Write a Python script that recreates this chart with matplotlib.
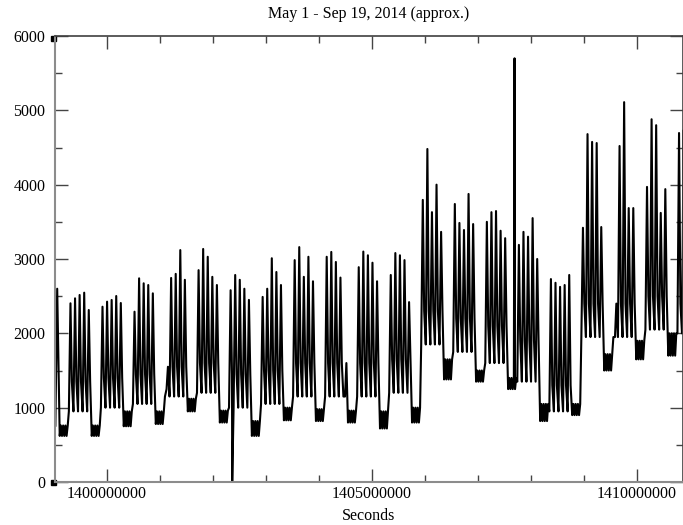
import numpy as np
import matplotlib
matplotlib.use("Agg")
import matplotlib.pyplot as plt
from matplotlib.ticker import MultipleLocator, FormatStrFormatter

# day 0 = Thu May 1 2014, 00:00 local (PDT)
t_start = 1398927600
day = 86400

# Thu May 1, Fri May 2 (before the first full week)
head_low = [800, 750]
head_high = [2400, 2600]

# weekday (Mon..Fri) peaks, one row per week starting Mon May 5
weekday_peak = [
    [2404, 2471, 2516, 2547, 2314],
    [2358, 2426, 2449, 2502, 2408],
    [2291, 2740, 2673, 2650, 2538],
    [1250, 2745, 2800, 3120, 2720],
    [2850, 3135, 3030, 2760, 2650],
    [2580, 2785, 2720, 2600, 2450],
    [2490, 2600, 3010, 2825, 2650],
    [2985, 3160, 2760, 3030, 2700],
    [3030, 3095, 2960, 2750, 1150],
    [2890, 3100, 3050, 2950, 2700],
    [2785, 3080, 3050, 2985, 2420],
    [3795, 4480, 3630, 4000, 3365],
    [3740, 3485, 3390, 3875, 3470],
    [3500, 3630, 3645, 3380, 3280],
    [3190, 3365, 3300, 3550, 3000],
    [2730, 2680, 2625, 2650, 2785],
    [3420, 4680, 4575, 4560, 3430],
    [1950, 4520, 5110, 3685, 3685],
    [3970, 4880, 4800, 3620, 3940],
    [4695, 4735],
]
# overnight level and evening level on weekdays, per week
weekday_low = [950, 1000, 1050, 1150, 1200, 1000, 1050, 1150, 1150, 1150,
               1200, 1850, 1750, 1600, 1350, 950, 1950, 1950, 2050, 2000]
weekday_eve = [1350, 1400, 1450, 1550, 1600, 1450, 1500, 1600, 1600, 1600,
               1650, 2300, 2200, 2100, 1900, 1300, 2400, 2400, 2500, 2400]
# weekend band (low / high), first entry = May 3-4, then after each week
weekend_low = [620, 620, 750, 780, 950, 800, 620, 830, 820, 800, 720, 800,
               1380, 1350, 1250, 820, 900, 1500, 1650, 1700]
weekend_high = [760, 760, 950, 950, 1120, 960, 820, 1000, 980, 960, 950, 1000,
                1650, 1500, 1400, 1050, 1050, 1720, 1900, 2000]

# single odd samples: (day, value)
event_day = [39.8, 101.5]
event_val = [0, 5700]

# build the series
pts = []
for d in range(2):
    pts.append((d + 0.15, head_low[d]))
    pts.append((d + 0.55, head_high[d]))

def add_weekend(first_day, lo, hi):
    for d in (first_day, first_day + 1):
        for f, v in zip((0.1, 0.35, 0.6, 0.85), (lo, hi, lo, hi)):
            pts.append((d + f, v))

add_weekend(2, weekend_low[0], weekend_high[0])
for k, peaks in enumerate(weekday_peak):
    mon = 4 + 7 * k
    for i, p in enumerate(peaks):
        pts.append((mon + i + 0.1, weekday_low[k]))
        pts.append((mon + i + 0.45, p))
        pts.append((mon + i + 0.75, weekday_eve[k]))
    if len(peaks) == 5:
        add_weekend(mon + 5, weekend_low[k + 1], weekend_high[k + 1])
    else:
        pts.append((mon + len(peaks) + 0.1, weekday_low[k]))

for d, v in zip(event_day, event_val):
    pts.append((d, v))
pts.sort()
t = np.array([t_start + p[0] * day for p in pts])
v = np.array([p[1] for p in pts])

plt.rcParams['font.family'] = ['Liberation Serif', 'DejaVu Serif']
fig = plt.figure(figsize=(6.83, 5.25), dpi=100)
ax = fig.add_axes([55 / 683, 43 / 525, 628 / 683, 446 / 525])

ax.plot(t, v, color='black', lw=1.5)

ax.set_xlim(1399020000, 1410878000)
ax.set_ylim(0, 6000)
ax.xaxis.set_major_locator(MultipleLocator(5000000))
ax.xaxis.set_minor_locator(MultipleLocator(1000000))
ax.yaxis.set_major_locator(MultipleLocator(1000))
ax.yaxis.set_minor_locator(MultipleLocator(500))
ax.xaxis.set_major_formatter(FormatStrFormatter('%d'))
ax.yaxis.set_major_formatter(FormatStrFormatter('%d'))

ax.tick_params(which='both', direction='in', top=True, right=True,
               labelsize=11.5, color='#444444', width=1)
ax.tick_params(which='major', length=9.5)
ax.tick_params(which='minor', length=5)
ax.tick_params(axis='x', pad=3)
ax.tick_params(axis='y', pad=7)

for s in ('left', 'bottom'):
    ax.spines[s].set_color('#8c8c8c')
    ax.spines[s].set_linewidth(1.5)
for s in ('top', 'right'):
    ax.spines[s].set_color('#404040')
    ax.spines[s].set_linewidth(1.2)

# little corner squares
ax.plot([-0.003, -0.003], [0.001, 0.995], 's', color='black', ms=3.6,
        transform=ax.transAxes, clip_on=False)

ax.set_title('May 1 - Sep 19, 2014 (approx.)', fontsize=11.5, pad=13)
ax.set_xlabel('Seconds', fontsize=11.5, labelpad=4)

fig.savefig('out.png', dpi=100)
